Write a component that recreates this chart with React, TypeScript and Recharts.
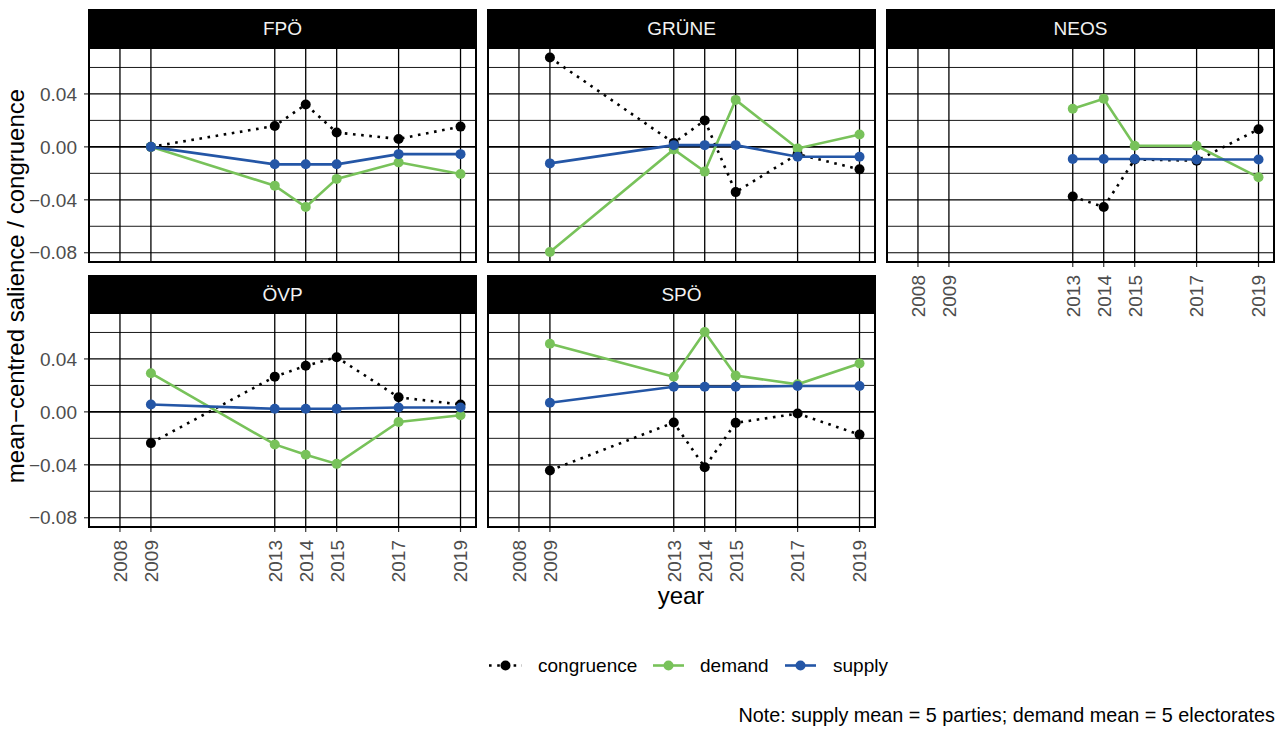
import React from 'react';
import { LineChart, Line, XAxis, YAxis, ReferenceLine } from 'recharts';

const FONT = '"Liberation Sans", Arial, Helvetica, sans-serif';

// ---- data ----
const years = [2009, 2013, 2014, 2015, 2017, 2019];
const neosYears = [2013, 2014, 2015, 2017, 2019];
const xTicks = [2008, 2009, 2013, 2014, 2015, 2017, 2019];
const yTicks = [-0.08, -0.04, 0, 0.04];
const yMinor = [-0.06, -0.02, 0.02, 0.06];

const fpoCongruence = [0.0, 0.0158, 0.032, 0.0108, 0.006, 0.0153];
const fpoDemand = [0.0, -0.0293, -0.0455, -0.0242, -0.0117, -0.0205];
const fpoSupply = [0.0, -0.0132, -0.0132, -0.0132, -0.0055, -0.0055];

const grueneCongruence = [0.0675, 0.003, 0.02, -0.0342, -0.0055, -0.017];
const grueneDemand = [-0.0795, -0.002, -0.0187, 0.0355, -0.0012, 0.0093];
const grueneSupply = [-0.0125, 0.0013, 0.0013, 0.0013, -0.0075, -0.0075];

const neosCongruence = [-0.0375, -0.0455, -0.0095, -0.0105, 0.0133];
const neosDemand = [0.0288, 0.0363, 0.0008, 0.0008, -0.023];
const neosSupply = [-0.0092, -0.0092, -0.0092, -0.0095, -0.0095];

const oevpCongruence = [-0.0236, 0.0266, 0.0348, 0.0413, 0.011, 0.0056];
const oevpDemand = [0.0292, -0.0246, -0.0324, -0.0393, -0.0076, -0.0025];
const oevpSupply = [0.0056, 0.0023, 0.0023, 0.0023, 0.0033, 0.0033];

const spoeCongruence = [-0.0443, -0.0081, -0.0418, -0.0083, -0.0013, -0.0172];
const spoeDemand = [0.0515, 0.0266, 0.0604, 0.0274, 0.0208, 0.0365];
const spoeSupply = [0.0069, 0.019, 0.019, 0.019, 0.0195, 0.0195];

const seriesNames = ['congruence', 'demand', 'supply'];
const seriesColors: Record<string, string> = {
  congruence: '#000000',
  demand: '#78C25A',
  supply: '#2456A6',
};

function build(ys: number[], c: number[], d: number[], s: number[]) {
  return ys.map((y, i) => ({ year: y, congruence: c[i], demand: d[i], supply: s[i] }));
}

const panels = [
  { name: 'FPÖ', data: build(years, fpoCongruence, fpoDemand, fpoSupply), col: 0, row: 0, showX: false, showY: true },
  { name: 'GRÜNE', data: build(years, grueneCongruence, grueneDemand, grueneSupply), col: 1, row: 0, showX: false, showY: false },
  { name: 'NEOS', data: build(neosYears, neosCongruence, neosDemand, neosSupply), col: 2, row: 0, showX: true, showY: false },
  { name: 'ÖVP', data: build(years, oevpCongruence, oevpDemand, oevpSupply), col: 0, row: 1, showX: true, showY: true },
  { name: 'SPÖ', data: build(years, spoeCongruence, spoeDemand, spoeSupply), col: 1, row: 1, showX: true, showY: false },
];

// ---- layout ----
const colLeft = [89, 488, 887];
const stripTop = [9, 275];
const stripH = 39;
const plotTop = [48, 313];
const plotW = 387;
const plotH = 214;
const yAxisW = 89;
const xAxisH = 80;

const fmtY = (v: number) => (v < 0 ? '\u2212' : '') + Math.abs(v).toFixed(2);

const XTick = (props: any) => {
  const { x, y, payload } = props;
  return (
    <text
      x={x}
      y={y}
      transform={`rotate(-90 ${x} ${y})`}
      textAnchor="end"
      dy="0.36em"
      fill="#4D4D4D"
      fontSize={19}
      fontFamily={FONT}
    >
      {payload.value}
    </text>
  );
};

function Panel({ p }: { p: (typeof panels)[number] }) {
  const w = plotW + (p.showY ? yAxisW : 0);
  const h = plotH + (p.showX ? xAxisH : 0);
  const left = colLeft[p.col] - (p.showY ? yAxisW : 0);
  const top = plotTop[p.row];
  return (
    <>
      <div
        style={{
          position: 'absolute',
          left: colLeft[p.col] - 1,
          top: stripTop[p.row],
          width: plotW + 2,
          height: stripH,
          background: '#000',
          color: '#f2f2f2',
          fontFamily: FONT,
          fontSize: 19,
          lineHeight: `${stripH}px`,
          textAlign: 'center',
        }}
      >
        {p.name}
      </div>
      <div style={{ position: 'absolute', left, top }}>
        <LineChart width={w} height={h} data={p.data} margin={{ top: 0, right: 0, bottom: 0, left: 0 }}>
          <XAxis
            type="number"
            dataKey="year"
            domain={[2007, 2019.5]}
            ticks={xTicks}
            allowDataOverflow
            interval={0}
            hide={!p.showX}
            height={xAxisH}
            axisLine={false}
            tickLine={{ stroke: '#333', strokeWidth: 1.2 }}
            tickSize={5}
            tickMargin={8}
            tick={<XTick />}
          />
          <YAxis
            type="number"
            domain={[-0.087, 0.0747]}
            ticks={yTicks}
            allowDataOverflow
            interval={0}
            hide={!p.showY}
            width={yAxisW}
            axisLine={false}
            tickLine={{ stroke: '#333', strokeWidth: 1.2 }}
            tickSize={5}
            tickMargin={7}
            tickFormatter={fmtY}
            tick={{ fill: '#4D4D4D', fontSize: 19, fontFamily: FONT }}
          />
          {yMinor.map((v) => (
            <ReferenceLine key={'mn' + v} y={v} stroke="#1a1a1a" strokeWidth={1} />
          ))}
          {yTicks.map((v) => (
            <ReferenceLine
              key={'mj' + v}
              y={v}
              stroke="#000"
              strokeWidth={v === 0 ? 1.8 : 1.2}
            />
          ))}
          {xTicks.map((v) => (
            <ReferenceLine key={'vx' + v} x={v} stroke="#000" strokeWidth={1.3} />
          ))}
          {seriesNames.map((s) => (
            <Line
              key={'l' + s}
              type="linear"
              dataKey={s}
              stroke={seriesColors[s]}
              strokeWidth={s === 'congruence' ? 2.6 : 2.6}
              strokeDasharray={s === 'congruence' ? '2.6 5.6' : undefined}
              dot={false}
              activeDot={false}
              isAnimationActive={false}
            />
          ))}
          {seriesNames.map((s) => (
            <Line
              key={'p' + s}
              type="linear"
              dataKey={s}
              stroke="none"
              strokeWidth={0}
              dot={{ r: 5, fill: seriesColors[s], stroke: 'none' }}
              activeDot={false}
              isAnimationActive={false}
            />
          ))}
        </LineChart>
      </div>
      <div
        style={{
          position: 'absolute',
          left: colLeft[p.col] - 1,
          top: plotTop[p.row] - 1,
          width: plotW + 2,
          height: plotH + 2,
          boxSizing: 'border-box',
          border: '2px solid #000',
          pointerEvents: 'none',
        }}
      />
    </>
  );
}

const legendItems = [
  { key: 'congruence', x0: 489, x1: 522, tx: 538 },
  { key: 'demand', x0: 653, x1: 684, tx: 700 },
  { key: 'supply', x0: 785, x1: 816, tx: 833 },
];

export default function App() {
  return (
    <div
      style={{
        position: 'absolute',
        left: 0,
        top: 0,
        width: 1287,
        height: 729,
        background: '#fff',
        overflow: 'hidden',
      }}
    >
      {panels.map((p) => (
        <Panel key={p.name} p={p} />
      ))}
      <svg
        width={1287}
        height={729}
        style={{ position: 'absolute', left: 0, top: 0, pointerEvents: 'none' }}
        fontFamily={FONT}
      >
        <text x={24} y={286} transform="rotate(-90 24 286)" textAnchor="middle" fontSize={24} fill="#000">
          mean−centred salience / congruence
        </text>
        <text x={681} y={604} textAnchor="middle" fontSize={24} fill="#000">
          year
        </text>
        {legendItems.map((it) => (
          <g key={it.key}>
            <line
              x1={it.x0}
              x2={it.x1}
              y1={665.5}
              y2={665.5}
              stroke={seriesColors[it.key]}
              strokeWidth={2.6}
              strokeDasharray={it.key === 'congruence' ? '2.6 5.6' : undefined}
            />
            <circle cx={(it.x0 + it.x1) / 2} cy={665.5} r={5} fill={seriesColors[it.key]} />
            <text x={it.tx} y={671.5} fontSize={19} fill="#000">
              {it.key}
            </text>
          </g>
        ))}
        <text x={1275} y={722} textAnchor="end" fontSize={19.8} fill="#000">
          Note: supply mean = 5 parties; demand mean = 5 electorates
        </text>
      </svg>
    </div>
  );
}
